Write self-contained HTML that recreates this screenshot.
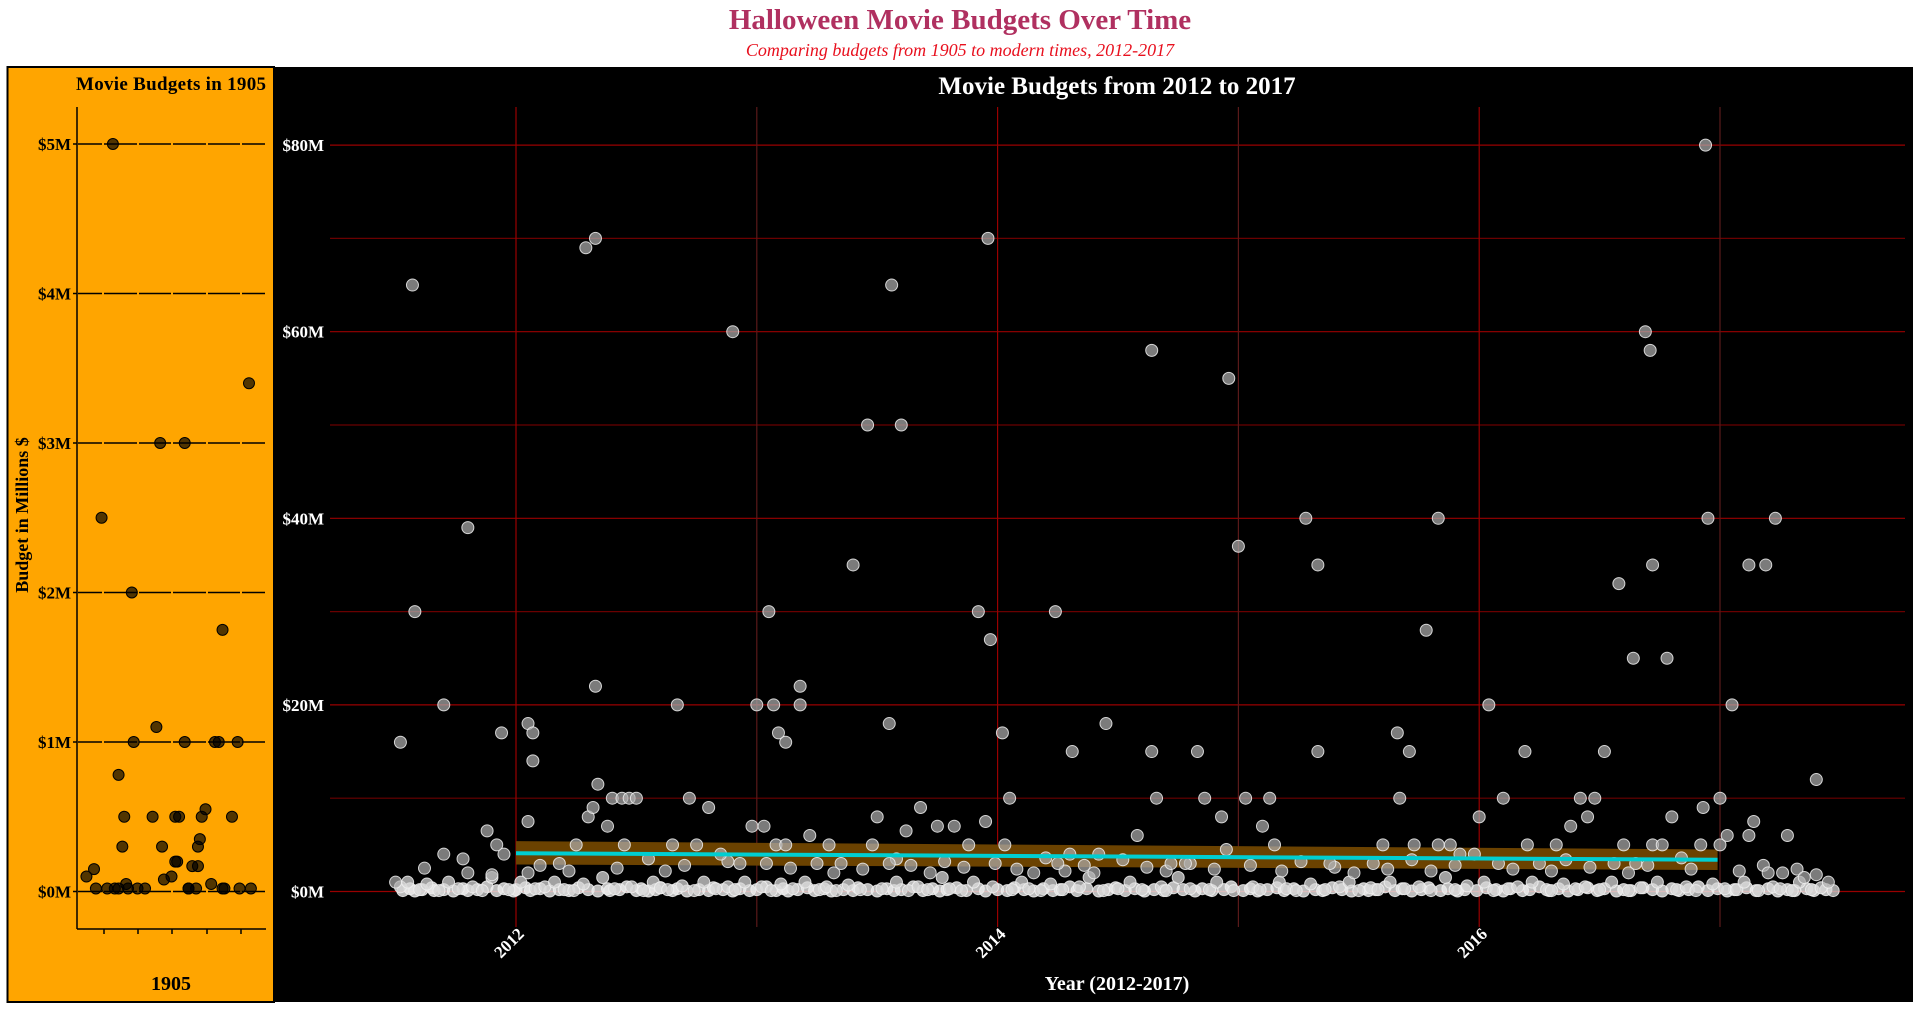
<!DOCTYPE html>
<html><head><meta charset="utf-8">
<style>
html,body{margin:0;padding:0;background:#fff;}
svg{display:block;font-family:"Liberation Serif",serif;}
</style></head>
<body>
<svg id="chart" width="1920" height="1009" viewBox="0 0 1920 1009" xmlns="http://www.w3.org/2000/svg">
<text x="960" y="29" text-anchor="middle" font-size="29" font-weight="bold" fill="#b03060">Halloween Movie Budgets Over Time</text>
<text x="960" y="56" text-anchor="middle" font-size="18" font-style="italic" fill="#e8101e">Comparing budgets from 1905 to modern times, 2012-2017</text>
<rect x="7.5" y="67" width="266.5" height="935" fill="#FFA500" stroke="#000" stroke-width="2"/>
<rect x="274" y="67" width="1639" height="935" fill="#000"/>
<g id="left"></g>
<g id="right"></g>
</svg>
<script>
// ---- 1905 panel data ----
const leftTicks = [0,1,2,3,4,5];
const leftTickLabels = ["$0M","$1M","$2M","$3M","$4M","$5M"];
const leftJitter = [0.05,0.09,0.10,0.13,0.16,0.19,0.20,0.22,0.24,0.25,0.22,0.27,0.26,0.29,0.30,0.32,0.36,0.40,0.42,0.44,0.45,0.46,0.50,0.52,0.52,0.54,0.57,0.57,0.59,0.59,0.61,0.63,0.64,0.65,0.66,0.68,0.71,0.73,0.75,0.77,0.77,0.78,0.82,0.85,0.86,0.91,0.92,0.64,0.53];
const leftBudget = [0.1,0.15,0.02,2.5,0.02,5,0.02,0.02,0.3,0.5,0.78,0.02,0.05,2,1,0.02,0.02,0.5,1.1,3,0.3,0.08,0.1,0.2,0.5,0.5,3,1,0.02,0.02,0.17,0.02,0.3,0.35,0.5,0.55,0.05,1,1,1.75,0.02,0.02,0.5,1,0.02,3.4,0.02,0.17,0.2];

// ---- 2012-2017 panel data ----
const rightTicks = [0,10,20,30,40,50,60,70,80];
const rightTickLabels = ["$0M","","$20M","","$40M","","$60M","","$80M"];
const yearTicks = [2012,2013,2014,2015,2016,2017];
const yearLabels = ["2012","","2014","","2016",""];
const bigYears = [2011.52,2011.57,2011.58,2011.70,2011.80,2011.94,2012.05,2012.07,2012.07,2012.29,2012.33,2012.33,2012.67,2012.90,2013.00,2013.05,2013.07,2013.09,2013.12,2013.18,2013.18,2013.40,2013.46,2013.55,2013.56,2013.60,2013.92,2013.96,2013.97,2014.02,2014.24,2014.31,2014.45,2014.64,2014.64,2014.83,2014.96,2015.00,2015.28,2015.33,2015.33,2015.66,2015.71,2015.78,2015.83,2016.04,2016.19,2016.52,2016.58,2016.64,2016.69,2016.71,2016.72,2016.78,2016.94,2016.95,2017.05,2017.12,2017.19,2017.23,2017.40];
const bigBudgets = [16,65,30,20,39,17,18,17,14,69,70,22,20,60,20,30,20,17,16,22,20,35,50,18,65,50,30,70,27,17,30,15,18,58,15,15,55,37,40,35,15,17,15,28,40,20,15,15,33,25,60,58,35,25,80,40,20,35,35,40,12];
const midYears = [2011.5,2011.7,2011.8,2011.88,2011.92,2011.95,2012.05,2012.05,2012.25,2012.3,2012.32,2012.34,2012.38,2012.4,2012.44,2012.47,2012.5,2012.45,2012.65,2012.72,2012.8,2012.75,2012.85,2012.93,2012.98,2013.03,2013.08,2013.12,2013.22,2013.3,2013.35,2013.5,2013.48,2013.55,2013.62,2013.68,2013.75,2013.82,2013.88,2013.95,2014.03,2014.05,2014.15,2014.25,2014.3,2014.42,2014.58,2014.66,2014.72,2014.78,2014.86,2014.93,2014.95,2015.03,2015.1,2015.13,2015.15,2015.38,2015.6,2015.67,2015.73,2015.83,2015.88,2015.92,2015.98,2016.0,2016.1,2016.2,2016.25,2016.32,2016.38,2016.42,2016.45,2016.48,2016.6,2016.65,2016.72,2016.76,2016.8,2016.92,2016.93,2017.0,2017.03,2017.0,2017.14,2017.12,2017.2,2017.28,2017.35,2017.45];
const midBudgets = [1,4,2,6.5,5,4,7.5,2,5,8,9,11.5,7,10,10,10,10,5,5,10,9,5,4,3,7,7,5,5,6,5,3,8,5,3,6.5,9,7,7,5,7.5,5,10,2,3,4,4,6,10,3,3,10,8,4.5,10,7,10,5,3,5,10,5,5,5,4,4,8,10,5,3,5,7,10,8,10,5,3,5,5,8,5,9,5,6,10,7.5,6,2,6,1.5,1];
const smallYears = [2011.62,2011.78,2011.9,2012.1,2012.18,2012.22,2012.42,2012.55,2012.62,2012.7,2012.88,2013.04,2013.14,2013.25,2013.32,2013.44,2013.58,2013.64,2013.72,2013.78,2013.86,2013.99,2014.08,2014.2,2014.28,2014.36,2014.4,2014.52,2014.62,2014.7,2014.8,2014.9,2015.05,2015.18,2015.26,2015.4,2015.48,2015.56,2015.62,2015.72,2015.8,2015.9,2016.08,2016.14,2016.3,2016.36,2016.46,2016.56,2016.62,2016.7,2016.84,2016.88,2017.08,2017.18,2017.26,2017.32,2017.4];
const smallBudgets = [2.5,3.5,1.8,2.8,3,2.2,2.5,3.5,2.2,2.8,3.2,3,2.5,3,2,2.4,3.5,2.8,2,3.2,2.6,3,2.4,3.6,2.2,2.8,2,3.4,2.6,2.2,3,2.4,2.8,2.2,3.2,2.6,2,3,2.4,3.4,2.2,2.8,3,2.4,2.2,3.4,2.6,3,2,2.8,3.6,2.4,2.2,2.8,2,2.4,1.8];
const lowYears = [2011.52,2011.55,2011.6,2011.63,2011.68,2011.72,2011.76,2011.82,2011.86,2011.9,2011.97,2012.02,2012.08,2012.12,2012.16,2012.2,2012.24,2012.28,2012.36,2012.41,2012.48,2012.53,2012.57,2012.6,2012.63,2012.69,2012.74,2012.78,2012.83,2012.88,2012.91,2012.95,2013.02,2013.06,2013.1,2013.15,2013.2,2013.26,2013.29,2013.33,2013.38,2013.43,2013.52,2013.58,2013.63,2013.67,2013.71,2013.77,2013.8,2013.85,2013.9,2013.98,2014.06,2014.1,2014.13,2014.18,2014.22,2014.27,2014.34,2014.38,2014.44,2014.5,2014.55,2014.6,2014.68,2014.7,2014.75,2014.8,2014.88,2014.91,2014.98,2015.06,2015.09,2015.17,2015.2,2015.24,2015.3,2015.36,2015.42,2015.46,2015.5,2015.55,2015.58,2015.63,2015.69,2015.75,2015.8,2015.86,2015.9,2015.95,2016.02,2016.06,2016.12,2016.16,2016.22,2016.28,2016.3,2016.35,2016.4,2016.44,2016.5,2016.55,2016.62,2016.67,2016.74,2016.82,2016.86,2016.9,2016.97,2017.02,2017.07,2017.1,2017.16,2017.22,2017.25,2017.3,2017.33,2017.38,2017.42,2017.47];
const lowBudgets = [0.5,1,0.2,0.8,0.1,1,0.3,0.5,0.1,1.5,0.2,1,0.3,0.5,1,0.2,0.1,0.8,1.5,0.3,0.5,0.1,1,0.4,0.2,0.6,0.1,1,0.3,0.5,0.2,1,0.5,0.1,0.8,0.3,1,0.2,0.5,0.1,0.7,0.2,0.3,1,0.1,0.5,0.2,1.5,0.3,0.1,1,0.5,0.2,1,0.3,0.1,0.8,0.2,0.5,1.5,0.1,0.3,1,0.2,0.5,0.1,1.5,0.3,0.2,1,0.1,0.5,0.2,1,0.3,0.1,0.8,0.2,0.5,1,0.1,0.4,0.2,1,0.3,0.5,0.1,1.5,0.2,0.6,1,0.1,0.3,0.5,1,0.2,0.1,0.8,0.3,0.5,0.2,1,0.1,0.4,1,0.2,0.5,0.1,0.8,0.3,0.2,1,0.1,0.5,0.3,0.1,1,0.2,0.4,0.1];
const zeroYears = [2011.53,2011.56,2011.58,2011.61,2011.65,2011.66,2011.7,2011.74,2011.78,2011.8,2011.84,2011.88,2011.92,2011.95,2011.99,2012.0,2012.04,2012.06,2012.1,2012.14,2012.18,2012.22,2012.26,2012.3,2012.34,2012.38,2012.39,2012.43,2012.46,2012.5,2012.52,2012.55,2012.58,2012.6,2012.65,2012.67,2012.71,2012.76,2012.8,2012.82,2012.86,2012.9,2012.93,2012.97,2013.0,2013.04,2013.08,2013.11,2013.13,2013.17,2013.21,2013.24,2013.28,2013.31,2013.36,2013.4,2013.42,2013.46,2013.5,2013.54,2013.57,2013.6,2013.65,2013.69,2013.73,2013.76,2013.79,2013.83,2013.87,2013.92,2013.95,2014.0,2014.04,2014.07,2014.11,2014.15,2014.19,2014.23,2014.26,2014.3,2014.33,2014.37,2014.42,2014.46,2014.49,2014.53,2014.57,2014.61,2014.65,2014.69,2014.73,2014.77,2014.82,2014.85,2014.89,2014.94,2014.97,2015.02,2015.05,2015.08,2015.12,2015.16,2015.19,2015.23,2015.27,2015.32,2015.35,2015.39,2015.43,2015.47,2015.52,2015.54,2015.57,2015.61,2015.65,2015.68,2015.72,2015.76,2015.79,2015.84,2015.87,2015.91,2015.94,2015.99,2016.03,2016.07,2016.1,2016.13,2016.18,2016.21,2016.25,2016.29,2016.33,2016.37,2016.41,2016.45,2016.49,2016.52,2016.57,2016.6,2016.63,2016.68,2016.72,2016.76,2016.8,2016.83,2016.87,2016.91,2016.95,2016.99,2017.03,2017.06,2017.11,2017.15,2017.2,2017.24,2017.28,2017.31,2017.36,2017.39,2017.44];
const zeroBudgets = [0.1,0.3,0.05,0.2,0.4,0.1,0.2,0.05,0.3,0.1,0.2,0.5,0.1,0.3,0.05,0.2,0.4,0.1,0.3,0.05,0.2,0.1,0.4,0.2,0.05,0.3,0.1,0.2,0.5,0.1,0.3,0.05,0.2,0.4,0.1,0.3,0.05,0.2,0.1,0.4,0.2,0.05,0.3,0.1,0.2,0.5,0.1,0.3,0.05,0.2,0.4,0.1,0.3,0.05,0.2,0.1,0.4,0.2,0.05,0.3,0.1,0.2,0.5,0.1,0.3,0.05,0.2,0.4,0.1,0.3,0.05,0.2,0.1,0.4,0.2,0.05,0.3,0.1,0.2,0.5,0.1,0.3,0.05,0.2,0.4,0.1,0.3,0.05,0.2,0.1,0.4,0.2,0.05,0.3,0.1,0.2,0.5,0.1,0.3,0.05,0.2,0.4,0.1,0.3,0.05,0.2,0.1,0.4,0.2,0.05,0.3,0.1,0.2,0.5,0.1,0.3,0.05,0.2,0.4,0.1,0.3,0.05,0.2,0.1,0.4,0.2,0.05,0.3,0.1,0.2,0.5,0.1,0.3,0.05,0.2,0.4,0.1,0.3,0.05,0.2,0.1,0.4,0.2,0.05,0.3,0.1,0.2,0.5,0.1,0.3,0.05,0.2,0.4,0.1,0.3,0.05,0.2,0.1,0.3,0.1,0.2,0.05,0.4,0.1,0.2];
const trendYears = [2012, 2016.99];
const trendFit = [4.1, 3.4];
const bandLo = [2.9, 2.3];
const bandHi = [5.4, 4.5];

const NS = "http://www.w3.org/2000/svg";
function mk(parent, tag, attrs, text){
  const el = document.createElementNS(NS, tag);
  for (const k in attrs) el.setAttribute(k, attrs[k]);
  if (text !== undefined) el.textContent = text;
  parent.appendChild(el);
  return el;
}
const lyScale = v => 891.5 - v * 149.5;
const lxScale = f => 77 + f * 189;
const ryScale = v => 891.5 - v * 9.33;
const rxScale = y => 516 + (y - 2012) * 240.8;

const L = document.getElementById('left');
const R = document.getElementById('right');

// ---- left panel ----
let t = mk(L,'text',{x:266,y:90,'text-anchor':'end','font-size':19,'font-weight':'bold',fill:'#000','textLength':190},'Movie Budgets in 1905');


const segB = [77,103,138,172,207,241,266];
leftTicks.forEach((v,i)=>{
  for (let s=0;s<segB.length-1;s++){
    const g = mk(L,'line',{x1:segB[s]+1,x2:segB[s+1]-1,y1:lyScale(v),y2:lyScale(v),stroke:'#000','stroke-width':1.5});
    
    
  }
  mk(L,'line',{x1:73,x2:77,y1:lyScale(v),y2:lyScale(v),stroke:'#000','stroke-width':1.5});
  const tl = mk(L,'text',{x:71,y:lyScale(v)+6,'text-anchor':'end','font-size':17,'font-weight':'bold',fill:'#000'},leftTickLabels[i]);
  
  
});
let ax = mk(L,'line',{x1:77,x2:77,y1:107,y2:929,stroke:'#000','stroke-width':1.5});


ax = mk(L,'line',{x1:77,x2:266,y1:929,y2:929,stroke:'#000','stroke-width':1.5});


[104,138,172,207,241].forEach(x=>mk(L,'line',{x1:x,x2:x,y1:929,y2:934,stroke:'#000','stroke-width':1.5}));
t = mk(L,'text',{x:171,y:990,'text-anchor':'middle','font-size':20,'font-weight':'bold',fill:'#000'},'1905');


t = mk(L,'text',{x:0,y:0,'text-anchor':'middle','font-size':18,'font-weight':'bold',fill:'#000',transform:'translate(28,515) rotate(-90)'},'Budget in Millions $');


leftBudget.forEach((v,i)=>{
  const c = mk(L,'circle',{cx:lxScale(leftJitter[i]),cy:lyScale(v),r:5.5,fill:'rgba(0,0,0,0.68)',stroke:'#000','stroke-width':1});
  
  
});

// ---- right panel ----
t = mk(R,'text',{x:1117,y:94,'text-anchor':'middle','font-size':25,'font-weight':'bold',fill:'#fff'},'Movie Budgets from 2012 to 2017');


rightTicks.forEach((v,i)=>{
  const g = mk(R,'line',{x1:330,x2:1905,y1:ryScale(v),y2:ryScale(v),stroke:(i%2==0)?'#990000':'#6a0000','stroke-width':1.2});
  
  
  if (rightTickLabels[i]){
    const tl = mk(R,'text',{x:324,y:ryScale(v)+6,'text-anchor':'end','font-size':17,'font-weight':'bold',fill:'#fff'},rightTickLabels[i]);
    
    
  }
});
yearTicks.forEach((y,i)=>{
  const g = mk(R,'line',{x1:rxScale(y),x2:rxScale(y),y1:107,y2:927,stroke:(i%2==0)?'#990000':'#5a1a1a','stroke-width':1.2});
  
  
  if (yearLabels[i]){
    const tl = mk(R,'text',{x:0,y:0,'text-anchor':'end','font-size':17,'font-weight':'bold',fill:'#fff',transform:`translate(${rxScale(y)+9},${935}) rotate(-45)`},yearLabels[i]);
    
    
  }
});
t = mk(R,'text',{x:1117,y:990,'text-anchor':'middle','font-size':20,'font-weight':'bold',fill:'#fff'},'Year (2012-2017)');



function drawPts(ys, bs, name, fill){
  ys.forEach((y,i)=>{
    if (bs[i] === undefined) return;
    const c = mk(R,'circle',{cx:rxScale(y),cy:ryScale(bs[i]),r:6,fill:fill,stroke:'rgba(240,240,240,0.85)','stroke-width':1});
    
    
  });
}
const bandPts = trendYears.map((y,i)=>rxScale(y)+','+ryScale(bandHi[i])).concat(trendYears.slice().reverse().map((y,j)=>{const i=trendYears.length-1-j;return rxScale(y)+','+ryScale(bandLo[i]);})).join(' ');
const band = mk(R,'polygon',{points:bandPts,fill:'#6b4200'});


drawPts(zeroYears, zeroBudgets, 'point-modern-zero', 'rgba(235,235,235,0.8)');
drawPts(lowYears, lowBudgets, 'point-modern-low', 'rgba(215,215,215,0.75)');
drawPts(smallYears, smallBudgets, 'point-modern-small', 'rgba(175,175,175,0.7)');
drawPts(midYears, midBudgets, 'point-modern-mid', 'rgba(175,175,175,0.7)');
drawPts(bigYears, bigBudgets, 'point-modern-high', 'rgba(175,175,175,0.7)');
const tr = mk(R,'polyline',{points:trendYears.map((y,i)=>rxScale(y)+','+ryScale(trendFit[i])).join(' '),fill:'none',stroke:'#00CED1','stroke-width':4});


</script>
</body></html>
